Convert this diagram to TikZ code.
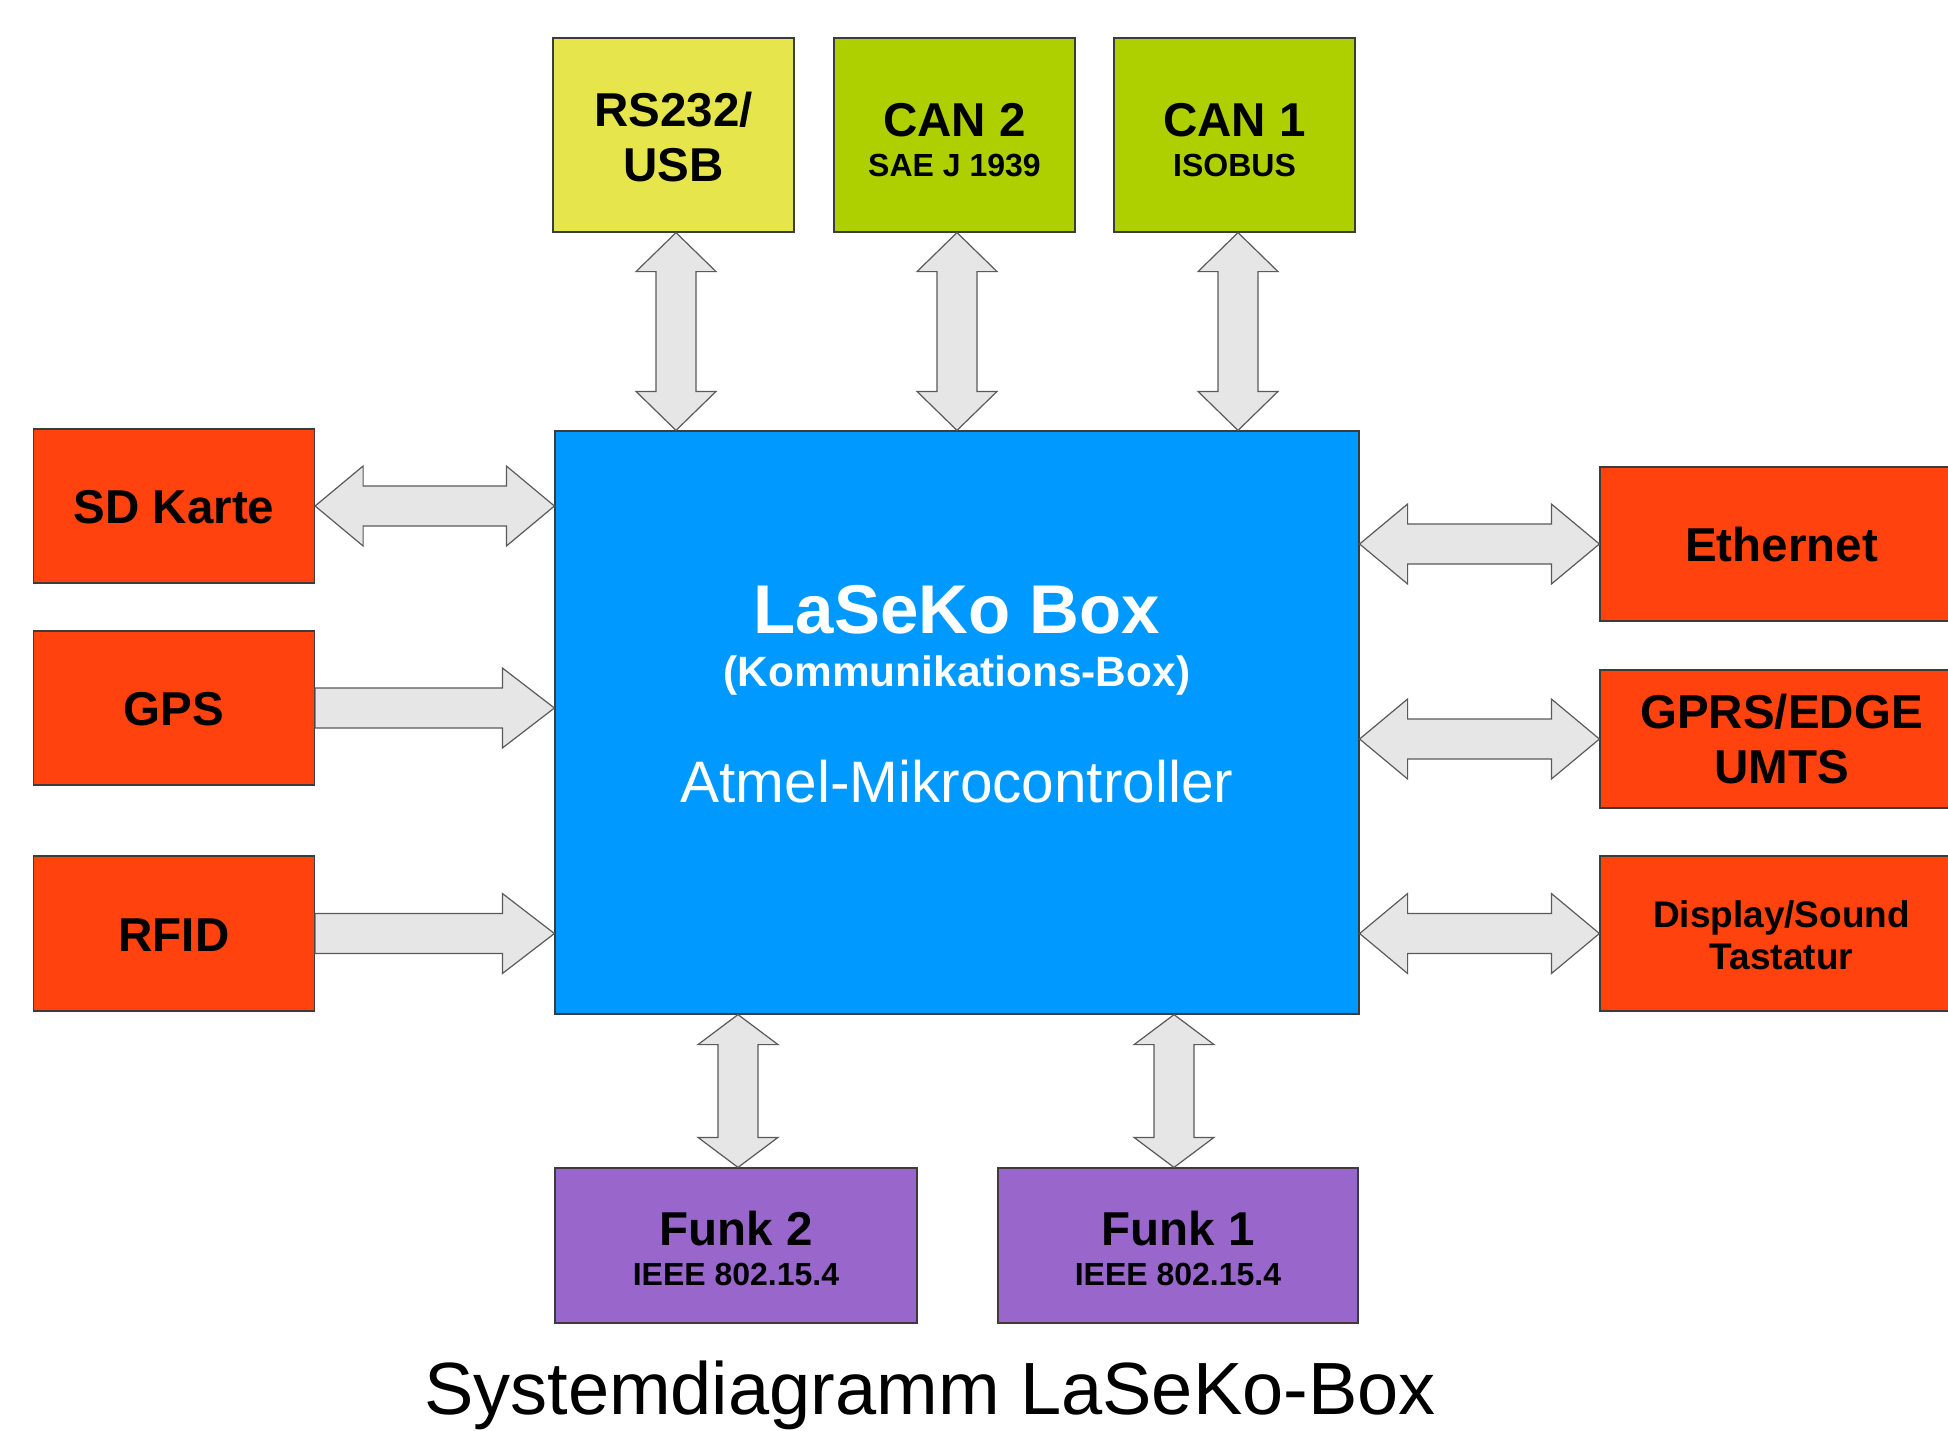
\documentclass[tikz,border=0pt]{standalone}
\usepackage{fontspec}
\setmainfont{Liberation Sans}
\usetikzlibrary{calc}
\definecolor{orangebox}{HTML}{FF420E}
\definecolor{yellowbox}{HTML}{E6E64C}
\definecolor{greenbox}{HTML}{AECF00}
\definecolor{bluebox}{HTML}{0099FF}
\definecolor{purplebox}{HTML}{9966CC}
\definecolor{arrfill}{HTML}{E6E6E6}
\definecolor{arrline}{HTML}{5A5A5A}
\definecolor{boxline}{HTML}{3C3C3C}
\tikzset{
  box/.style={draw=boxline, line width=0.6pt, inner sep=0pt, anchor=center},
  arrowsty/.style={fill=arrfill, draw=arrline, line width=0.6pt, line join=miter},
  lbl/.style={anchor=base, inner sep=0pt, font=\bfseries\fontsize{23.75}{27}\selectfont},
  sublbl/.style={anchor=base, inner sep=0pt, font=\bfseries\fontsize{16}{19}\selectfont},
}
% vertical double arrow: #1 top point, #2 bottom point, #3 head length
\newcommand\vdarrow[3]{%
  \draw[arrowsty] let \p1=(#1), \p2=(#2) in
  (\x1,\y1) -- (\x1+20pt,\y1-#3) -- (\x1+10pt,\y1-#3) -- (\x1+10pt,\y2+#3) -- (\x1+20pt,\y2+#3)
  -- (\x1,\y2) -- (\x1-20pt,\y2+#3) -- (\x1-10pt,\y2+#3) -- (\x1-10pt,\y1-#3) -- (\x1-20pt,\y1-#3) -- cycle;}
% horizontal double arrow: #1 left point, #2 right point, #3 head length
\newcommand\hdarrow[3]{%
  \draw[arrowsty] let \p1=(#1), \p2=(#2) in
  (\x1,\y1) -- (\x1+#3,\y1+20pt) -- (\x1+#3,\y1+10pt) -- (\x2-#3,\y1+10pt) -- (\x2-#3,\y1+20pt)
  -- (\x2,\y1) -- (\x2-#3,\y1-20pt) -- (\x2-#3,\y1-10pt) -- (\x1+#3,\y1-10pt) -- (\x1+#3,\y1-20pt) -- cycle;}
% horizontal single arrow pointing right
\newcommand\harrow[3]{%
  \draw[arrowsty] let \p1=(#1), \p2=(#2) in
  (\x1,\y1+10pt) -- (\x2-#3,\y1+10pt) -- (\x2-#3,\y1+20pt) -- (\x2,\y1)
  -- (\x2-#3,\y1-20pt) -- (\x2-#3,\y1-10pt) -- (\x1,\y1-10pt) -- cycle;}
\begin{document}
\begin{tikzpicture}[x=0.5pt,y=-0.5pt]
\useasboundingbox (0,0) rectangle (1948,1430);
\clip (0,0) rectangle (1948,1430);
\fill[white] (0,0) rectangle (1948,1430);

% top boxes
\node[box, fill=yellowbox, minimum width=120.5pt, minimum height=97pt] (rs) at (673.5,135) {};
\node[box, fill=greenbox, minimum width=120.5pt, minimum height=97pt] (can2) at (954.5,135) {};
\node[box, fill=greenbox, minimum width=120.5pt, minimum height=97pt] (can1) at (1234.5,135) {};

% main box
\node[box, fill=bluebox, minimum width=402pt, minimum height=291.5pt] (main) at (957,722.5) {};

% left boxes
\node[box, fill=orangebox, minimum width=140.5pt, minimum height=77pt] (sd) at (174,506) {};
\node[box, fill=orangebox, minimum width=140.5pt, minimum height=77pt] (gps) at (174,708) {};
\node[box, fill=orangebox, minimum width=140.5pt, minimum height=77.5pt] (rfid) at (174,933.5) {};

% right boxes
\node[box, fill=orangebox, minimum width=176pt, minimum height=77pt] (eth) at (1776,544) {};
\node[box, fill=orangebox, minimum width=176pt, minimum height=69pt] (gprs) at (1776,739) {};
\node[box, fill=orangebox, minimum width=176pt, minimum height=77.5pt] (disp) at (1776,933.5) {};

% bottom boxes
\node[box, fill=purplebox, minimum width=181pt, minimum height=77.5pt] (f2) at (736,1245.5) {};
\node[box, fill=purplebox, minimum width=180pt, minimum height=77.5pt] (f1) at (1178,1245.5) {};

% labels
\node[lbl] (rsA) at (673.5,126) {RS232/};
\node[lbl] (rsB) at (673.5,181) {USB};
\node[lbl] (can2A) at (954.5,136) {CAN 2};
\node[sublbl] (can2B) at (954.5,176) {SAE J 1939};
\node[lbl] (can1A) at (1234.5,136) {CAN 1};
\node[sublbl] (can1B) at (1234.5,176) {ISOBUS};

\node[lbl] (sdT) at (174,523) {SD Karte};
\node[lbl] (gpsT) at (174,725) {GPS};
\node[lbl] (rfidT) at (174,951) {RFID};

\node[lbl] (ethT) at (1781.5,561) {Ethernet};
\node[lbl] (gprsA) at (1781.5,728) {GPRS/EDGE};
\node[lbl] (gprsB) at (1781.5,783) {UMTS};
\node[anchor=base, inner sep=0pt, font=\bfseries\fontsize{18.5}{22}\selectfont] (dispA) at (1781.5,927) {Display/Sound};
\node[anchor=base, inner sep=0pt, font=\bfseries\fontsize{18.5}{22}\selectfont] (dispB) at (1781.5,969) {Tastatur};

\node[lbl] (f2A) at (736,1245) {Funk 2};
\node[sublbl] (f2B) at (736,1285) {IEEE 802.15.4};
\node[lbl] (f1A) at (1178,1245) {Funk 1};
\node[sublbl] (f1B) at (1178,1285) {IEEE 802.15.4};

\node[anchor=base, inner sep=0pt, text=white, font=\bfseries\fontsize{34.5}{40}\selectfont] (mainA) at (957,633) {LaSeKo Box};
\node[anchor=base, inner sep=0pt, text=white, font=\bfseries\fontsize{21.2}{25}\selectfont] (mainB) at (957,686) {(Kommunikations-Box)};
\node[anchor=base, inner sep=0pt, text=white, font=\fontsize{29.25}{34}\selectfont] (mainC) at (957,802) {Atmel-Mikrocontroller};

\node[anchor=base, inner sep=0pt, font=\fontsize{37}{43}\selectfont] (title) at (930,1414) {Systemdiagramm LaSeKo-Box};

% arrows
\vdarrow{$(rs.south)+(2.5,0)$}{rs.south |- main.north}{19.5pt}
\vdarrow{$(can2.south)+(2.5,0)$}{can2.south |- main.north}{19.5pt}
\vdarrow{$(can1.south)+(3.5,0)$}{can1.south |- main.north}{19.5pt}
\vdarrow{$(f2.north |- main.south)+(2,0)$}{f2.north}{15pt}
\vdarrow{$(f1.north |- main.south)+(-4,0)$}{f1.north}{15pt}
\hdarrow{sd.east}{sd.east -| main.west}{24pt}
\harrow{gps.east}{gps.east -| main.west}{26pt}
\harrow{rfid.east}{rfid.east -| main.west}{26pt}
\hdarrow{main.east |- eth.west}{eth.west}{24pt}
\hdarrow{main.east |- gprs.west}{gprs.west}{24pt}
\hdarrow{main.east |- disp.west}{disp.west}{24pt}
\end{tikzpicture}
\end{document}
